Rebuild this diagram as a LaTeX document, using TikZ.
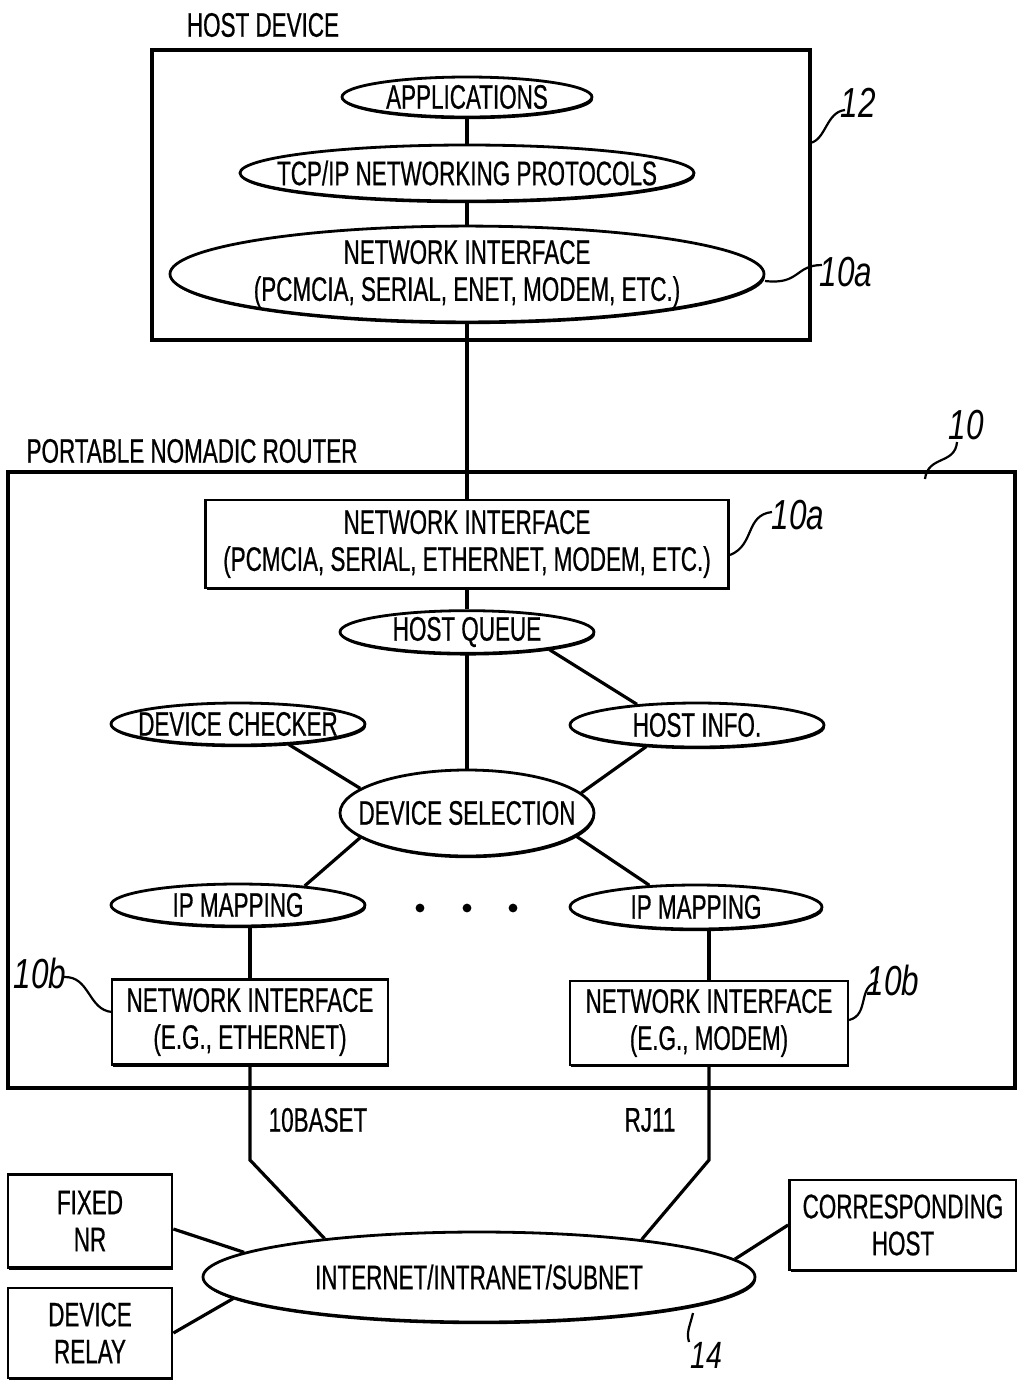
\documentclass[tikz,border=0pt]{standalone}
\usepackage{fontspec}
\setmainfont{Liberation Sans}[FakeStretch=0.66, FakeBold=0.6]
\newfontfamily\labfont{Liberation Sans}[FakeStretch=0.75]
\usetikzlibrary{shapes.geometric,shadows}
\newcommand{\zb}[1]{\makebox[0pt]{#1}}
\tikzset{
  every node/.style={font=\fontsize{17}{18.5}\selectfont, inner sep=0pt},
  line/.style={line width=1.6pt},
  shad/.style={drop shadow={shadow xshift=0.5pt, shadow yshift=-1.1pt, opacity=1, fill=black}},
  ell/.style={ellipse, draw, line width=1.4pt, fill=white, shad, align=center},
  box/.style={rectangle, draw, line width=1.4pt, fill=white, shad, align=center},
  frame/.style={rectangle, draw, line width=1.6pt},
  lab/.style={font=\labfont\itshape\fontsize{21}{21}\selectfont},
  leader/.style={line width=1.1pt}
}
\begin{document}
\begin{tikzpicture}[x=0.5pt,y=-0.5pt]
\useasboundingbox (0,0) rectangle (1017,1382);
% frames
\node[frame, minimum width=329pt, minimum height=145pt] (host) at (481,195) {};
\node[frame, fill=white, shad, minimum width=503.5pt, minimum height=308pt] (router) at (511.5,780) {};
\node (thd) at (263,25) {HOST DEVICE};
\node (tpnr) at (192,451) {PORTABLE NOMADIC ROUTER};
% host nodes
\node[ell, minimum width=125pt, minimum height=20pt] (apps) at (467,97) {\zb{APPLICATIONS}};
\node[ell, minimum width=227pt, minimum height=28pt] (tcp) at (467,173) {\zb{TCP/IP NETWORKING PROTOCOLS}};
\node[ell, minimum width=297pt, minimum height=46pt] (hni) at (467,274) {\zb{NETWORK INTERFACE}\\\zb{(PCMCIA, SERIAL, ENET, MODEM, ETC.)}};
% router nodes
\node[box, minimum width=261.5pt, minimum height=44pt] (rni) at (467,544) {NETWORK INTERFACE\\(PCMCIA, SERIAL, ETHERNET, MODEM, ETC.)};
\node[ell, minimum width=127pt, minimum height=20pt] (hq) at (467,632) {\zb{HOST QUEUE}};
\node[ell, minimum width=127pt, minimum height=21pt] (dc) at (238,724) {\zb{DEVICE CHECKER}};
\node[ell, minimum width=127pt, minimum height=22pt] (hi) at (697,725) {\zb{HOST INFO.}};
\node[ell, minimum width=127pt, minimum height=43pt] (ds) at (467,813) {\zb{DEVICE SELECTION}};
\node[ell, minimum width=127pt, minimum height=21pt] (ipl) at (238,905) {\zb{IP MAPPING}};
\node[ell, minimum width=126pt, minimum height=22pt] (ipr) at (696,907) {\zb{IP MAPPING}};
\node[box, minimum width=138pt, minimum height=42.5pt] (nil) at (250,1022) {NETWORK INTERFACE\\(E.G., ETHERNET)};
\node[box, minimum width=139pt, minimum height=42pt] (nir) at (709,1023) {NETWORK INTERFACE\\(E.G., MODEM)};
% outside
\node[ell, minimum width=276pt, minimum height=45pt] (net) at (479,1277) {\zb{INTERNET/INTRANET/SUBNET}};
\node[box, minimum width=82pt, minimum height=46.5pt] (fnr) at (90,1221) {FIXED\\NR};
\node[box, minimum width=82pt, minimum height=45pt] (drl) at (90,1333) {DEVICE\\RELAY};
\node[box, minimum width=113.5pt, minimum height=45pt] (ch) at (903,1225) {CORRESPONDING\\HOST};
\node (t10b) at (318,1120) {10BASET};
\node (trj) at (650,1120) {RJ11};
% dots
\fill (420,908) circle (2.2pt);
\fill (467,908) circle (2.2pt);
\fill (513,908) circle (2.2pt);
% connectors
\draw[line] (apps) -- (tcp);
\draw[line] (tcp) -- (hni);
\draw[line] (hni) -- (rni);
\draw[line] (rni) -- (hq);
\draw[line] (hq) -- (ds);
\draw[line] (hq.-12) -- (hi.161);
\draw[line] (dc.-22) -- (ds.167.6);
\draw[line] (hi.203) -- (ds.10.5);
\draw[line] (ds.193.4) -- (ipl.16.6);
\draw[line] (ds.-12.5) -- (ipr.155);
\draw[line] (nil.north |- ipl.south) -- (nil.north);
\draw[line] (nir.north |- ipr.south) -- (nir.north);
\coordinate (bl) at (250,1160);
\coordinate (br) at (709,1160);
\draw[line] (nil.south) -- (bl) -- (net.166.9);
\draw[line] (nir.south) -- (br) -- (net.13.2);
\draw[line] ([yshift=-4pt]fnr.east) -- (net.174.7);
\draw[line] (drl.east) -- (net.185.5);
\draw[line] (ch.west) -- (net.4.4);
% reference labels
\node[lab] (l12) at (858,103) {12};
\node[lab] (l10ah) at (846,272) {10a};
\node[lab] (l10) at (966,425) {10};
\node[lab] (l10ar) at (798,515) {10a};
\node[lab] (l10bl) at (40,973) {10b};
\node[lab] (l10br) at (893,980) {10b};
\node[lab, font=\labfont\itshape\fontsize{19}{19}\selectfont] (l14) at (706,1355) {14};
\draw[leader] (810,143) .. controls (826,140) and (826,112) .. (845,110);
\draw[leader] (765,281) .. controls (800,285) and (795,265) .. (822,265);
\draw[leader] (925,479) .. controls (928,455) and (955,465) .. (957,442);
\draw[leader] (730,555) .. controls (755,545) and (745,515) .. (772,512);
\draw[leader] (64,977) .. controls (90,976) and (88,1010) .. (112,1012);
\draw[leader] (849,1020) .. controls (870,1015) and (857,985) .. (878,982);
\draw[leader] (693,1313) .. controls (690,1326) and (686,1332) .. (689,1342);
\end{tikzpicture}
\end{document}
